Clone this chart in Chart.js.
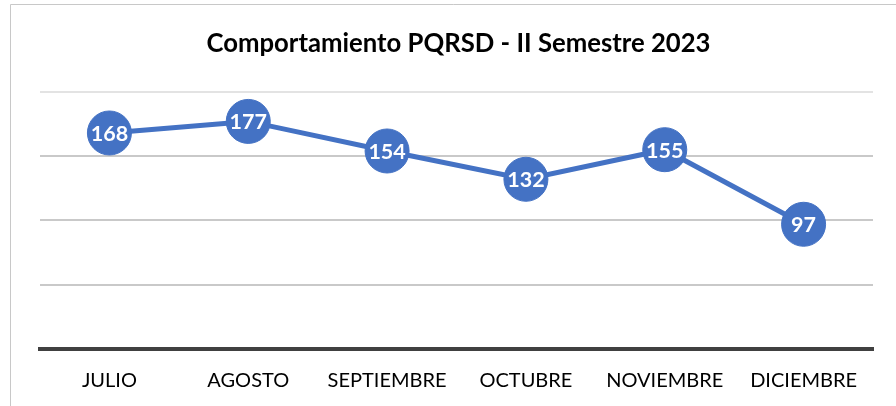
<!DOCTYPE html>
<html>
<head>
<meta charset="utf-8">
<script src="https://cdn.jsdelivr.net/npm/chart.js@4/dist/chart.umd.min.js"></script>
<style>
html,body{margin:0;padding:0;background:#fff;}
#wrap{position:relative;width:896px;height:406px;}
canvas{display:block;}
</style>
</head>
<body>
<div id="wrap"><canvas id="c" width="896" height="406"></canvas></div>
<script>
const categories = ["JULIO", "AGOSTO", "SEPTIEMBRE", "OCTUBRE", "NOVIEMBRE", "DICIEMBRE"];
const pqrsdValues = [168, 177, 154, 132, 155, 97];
const chartTitle = "Comportamiento PQRSD - II Semestre 2023";
const yMin = 0, yMax = 200, yStep = 50;

const lineColor = "#4472C4";

const frame = {
  id: "frame",
  beforeDraw(chart) {
    const ctx = chart.ctx;
    ctx.save();
    ctx.fillStyle = "#fff";
    ctx.fillRect(0, 0, chart.width, chart.height);
    ctx.strokeStyle = "#c8c8c8";
    ctx.lineWidth = 1;
    ctx.beginPath();
    ctx.moveTo(10.5, chart.height);
    ctx.lineTo(10.5, 4.5);
    ctx.lineTo(chart.width, 4.5);
    ctx.stroke();
    ctx.restore();
  }
};

const valueLabels = {
  id: "valueLabels",
  afterDatasetsDraw(chart) {
    const ctx = chart.ctx;
    const meta = chart.getDatasetMeta(0);
    ctx.save();
    ctx.fillStyle = "#fff";
    ctx.font = "bold 21.5px Lato";
    ctx.textAlign = "center";
    ctx.textBaseline = "middle";
    meta.data.forEach((pt, i) => {
      ctx.fillText(String(chart.data.datasets[0].data[i]), pt.x, pt.y + 1);
    });
    ctx.restore();
  }
};

new Chart(document.getElementById("c"), {
  type: "line",
  data: {
    labels: categories,
    datasets: [{
      data: pqrsdValues,
      borderColor: lineColor,
      backgroundColor: lineColor,
      borderWidth: 5,
      pointRadius: 22,
      pointHoverRadius: 22,
      pointBackgroundColor: lineColor,
      pointBorderColor: lineColor,
      pointBorderWidth: 1,
      tension: 0,
      clip: false
    }]
  },
  options: {
    responsive: false,
    animation: false,
    events: [],
    layout: { padding: { left: 40, right: 19, top: 0, bottom: 0 } },
    plugins: {
      legend: { display: false },
      tooltip: { enabled: false },
      title: {
        display: true,
        text: chartTitle,
        color: "#000",
        font: { family: "Lato", size: 25.7, weight: "bold" },
        padding: { top: 28, bottom: 33 }
      }
    },
    scales: {
      x: {
        offset: true,
        grid: { display: false, drawTicks: false },
        border: { display: true, color: "#404040", width: 4 },
        ticks: { color: "#000", font: { family: "Lato", size: 20 }, padding: 20, maxRotation: 0 },
        afterFit(scale) { scale.height = 406 - 349; }
      },
      y: {
        min: yMin, max: yMax,
        ticks: { display: false, stepSize: yStep },
        border: { display: false },
        grid: {
          drawTicks: false,
          lineWidth: 2,
          color: (c) => c.tick && c.tick.value === yMax ? "#e3e3e3" : (c.tick && c.tick.value === yMin ? "rgba(0,0,0,0)" : "#c9c9c9")
        },
        afterFit(scale) { scale.width = 0; }
      }
    }
  },
  plugins: [frame, valueLabels]
});
</script>
</body>
</html>
